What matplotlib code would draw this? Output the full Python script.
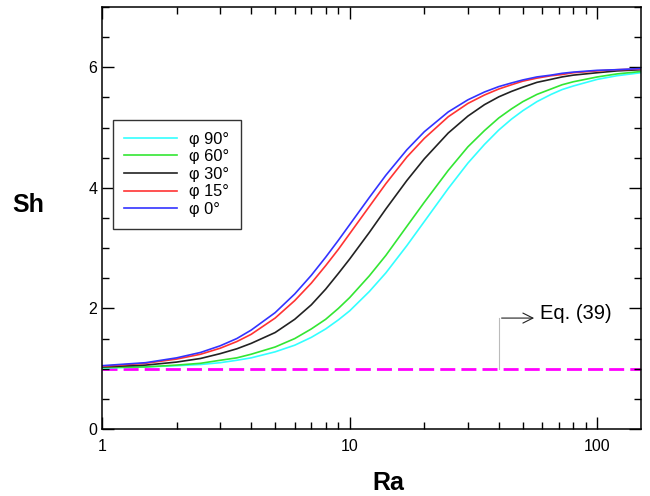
import matplotlib as mpl
import matplotlib.pyplot as plt

# Sherwood number vs Rayleigh number for several inclination angles
RA = [1, 1.5, 2, 2.5, 3, 3.5, 4, 5, 6, 7, 8, 9, 10, 12, 14, 17, 20, 25, 30, 35,
      40, 45, 50, 57, 65, 72, 80, 100, 120, 150]

SH_90 = [1.01, 1.03, 1.05, 1.07, 1.10, 1.14, 1.18, 1.28, 1.39, 1.52, 1.66, 1.81, 1.96, 2.28, 2.59,
         3.04, 3.44, 3.99, 4.41, 4.72, 4.96, 5.14, 5.28, 5.43, 5.55, 5.63, 5.69, 5.80, 5.86, 5.91]
SH_60 = [1.02, 1.03, 1.06, 1.09, 1.14, 1.18, 1.24, 1.36, 1.50, 1.66, 1.82, 2.00, 2.18, 2.54, 2.88,
         3.36, 3.76, 4.29, 4.68, 4.95, 5.16, 5.31, 5.43, 5.55, 5.64, 5.71, 5.76, 5.84, 5.89, 5.93]
SH_30 = [1.03, 1.06, 1.11, 1.17, 1.25, 1.33, 1.42, 1.60, 1.82, 2.06, 2.32, 2.58, 2.82, 3.26, 3.65,
         4.12, 4.48, 4.91, 5.19, 5.38, 5.51, 5.60, 5.67, 5.75, 5.80, 5.84, 5.87, 5.91, 5.94, 5.96]
SH_15 = [1.04, 1.09, 1.16, 1.24, 1.34, 1.45, 1.57, 1.84, 2.13, 2.42, 2.71, 2.98, 3.24, 3.69, 4.07,
         4.51, 4.82, 5.18, 5.40, 5.54, 5.64, 5.71, 5.77, 5.82, 5.86, 5.88, 5.91, 5.94, 5.96, 5.97]
SH_0 = [1.05, 1.10, 1.18, 1.27, 1.38, 1.50, 1.64, 1.93, 2.24, 2.55, 2.85, 3.13, 3.39, 3.84, 4.21,
        4.63, 4.93, 5.26, 5.46, 5.59, 5.68, 5.74, 5.79, 5.84, 5.87, 5.90, 5.92, 5.95, 5.96, 5.98]

EQ39_RA = [1, 150]
EQ39_SH = [1.0, 1.0]

SERIES = [
    ("φ 90°", SH_90, "#33ffff"),
    ("φ 60°", SH_60, "#33e633"),
    ("φ 30°", SH_30, "#222222"),
    ("φ 15°", SH_15, "#ff3333"),
    ("φ 0°", SH_0, "#3333ff"),
]


def main():
    mpl.rcParams.update(
        {
            "font.family": ["Liberation Sans", "DejaVu Sans"],
            "font.size": 11.5,
        }
    )

    fig = plt.figure(figsize=(6.5, 4.96), dpi=100)
    ax = fig.add_axes([102 / 650, 1 - 429 / 496, 539 / 650, 422 / 496])

    for label, sh, color in SERIES:
        ax.plot(RA, sh, color=color, lw=1.2, label=label)

    ax.plot(EQ39_RA, EQ39_SH, color="#ff00ff", lw=2.0, dashes=(5.4, 2.2), zorder=1)

    ax.set_xscale("log")
    ax.set_xlim(1, 150)
    ax.set_ylim(0, 7)
    ax.set_yticks([0, 2, 4, 6])
    ax.set_yticks([0.5 * i for i in range(15)], minor=True)
    ax.set_xticks([1, 10, 100])
    ax.set_xticklabels(["1", "10", "100"])

    for s in ax.spines.values():
        s.set_linewidth(1.1)
    ax.tick_params(which="both", direction="in", top=True, right=True, width=1.0)
    ax.tick_params(which="major", length=8.5)
    ax.tick_params(which="minor", length=5)
    ax.tick_params(axis="x", which="major", pad=7, labelsize=11.5)
    ax.tick_params(axis="y", which="major", pad=3.5, labelsize=11.5)

    ax.set_ylabel("Sh", rotation=0, fontsize=18, fontweight="bold", va="center", ha="center")
    ax.yaxis.set_label_coords(-0.137, 0.531)
    ax.set_xlabel("Ra", fontsize=18, fontweight="bold", va="center", ha="center")
    ax.xaxis.set_label_coords(0.531, -0.128)

    leg = ax.legend(
        loc="upper left",
        bbox_to_anchor=(0.02, 0.732),
        borderaxespad=0,
        fontsize=11.8,
        handlelength=3.2,
        handletextpad=0.75,
        labelspacing=0.16,
        borderpad=0.7,
        fancybox=False,
        framealpha=1,
    )
    leg.get_frame().set_edgecolor("#333333")
    leg.get_frame().set_linewidth(1.0)

    # Eq. (39) callout
    ax.plot([40, 40], [1.0, 1.84], color="#bbbbbb", lw=0.8, zorder=2)
    ax.annotate(
        "",
        xy=(57, 1.84),
        xytext=(40, 1.84),
        arrowprops=dict(arrowstyle="->", color="#222222", lw=0.8, mutation_scale=18),
    )
    ax.text(58.5, 1.92, "Eq. (39)", fontsize=14.5, ha="left", va="center")

    fig.savefig("out.png", dpi=100)
    plt.close(fig)


if __name__ == "__main__":
    main()
